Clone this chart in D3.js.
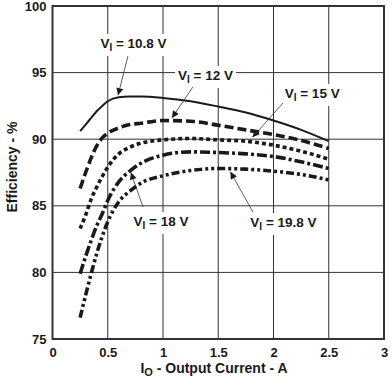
<!DOCTYPE html>
<html>
<head>
<meta charset="utf-8">
<script src="https://cdn.jsdelivr.net/npm/d3@7"></script>
<style>
  html, body { margin: 0; padding: 0; background: #fff; }
  #chart { width: 392px; height: 388px; }
  text { font-family: "Liberation Sans", Arial, sans-serif; font-weight: bold; fill: #1a1a1a; }
</style>
</head>
<body>
<div id="chart"></div>
<script>
// output current (A)
const current = [0.25, 0.3, 0.35, 0.4, 0.45, 0.5, 0.6, 0.7, 0.8, 1.0, 1.25, 1.5, 1.75, 2.0, 2.25, 2.5];

// efficiency (%) for each input voltage
const eff108 = [90.6, 91.1, 91.6, 92.1, 92.5, 92.85, 93.15, 93.2, 93.2, 93.1, 92.85, 92.45, 92.0, 91.4, 90.7, 89.85];
const eff12  = [86.3, 87.5, 88.6, 89.5, 90.1, 90.45, 90.85, 91.1, 91.2, 91.4, 91.35, 91.05, 90.7, 90.35, 89.9, 89.3];
const eff15  = [83.3, 84.3, 85.5, 86.4, 87.2, 87.9, 88.9, 89.4, 89.7, 89.95, 90.05, 89.95, 89.85, 89.55, 89.1, 88.5];
const eff18  = [79.9, 81.2, 82.4, 83.5, 84.4, 85.4, 86.8, 87.6, 88.2, 88.8, 89.05, 89.0, 88.9, 88.7, 88.3, 87.8];
const eff198 = [76.6, 78.3, 79.9, 81.4, 82.7, 83.8, 85.3, 86.1, 86.7, 87.25, 87.65, 87.8, 87.75, 87.6, 87.35, 86.95];

const xTicks = [0, 0.5, 1, 1.5, 2, 2.5, 3];
const yTicks = [75, 80, 85, 90, 95, 100];

// label text, label centre (A, %), arrow tail and tip (A, %)
const labelNames = ["10.8", "12", "15", "18", "19.8"];
const labelPos = [[0.733, 96.85], [1.385, 94.44], [2.35, 93.1], [0.982, 83.48], [2.09, 83.4]];
const arrowFrom = [[0.683, 96.25], [1.27, 93.92], [2.086, 92.72], [0.819, 84.9], [1.814, 84.53]];
const arrowTo = [[0.593, 93.3], [1.081, 91.6], [1.81, 90.15], [0.71, 87.5], [1.61, 87.55]];

const series = [
    { values: eff108, dash: null, width: 2 },
    { values: eff12, dash: "9,4", width: 3.6 },
    { values: eff15, dash: "4,3", width: 3.6 },
    { values: eff18, dash: "10,3,3,3", width: 3.6 },
    { values: eff198, dash: "8,3,3,3,3,3", width: 3.6 }
];

const width = 392, height = 388;
const plot = { left: 52.5, right: 384, top: 6, bottom: 339 };

const svg = d3.select("#chart").append("svg")
    .attr("width", width)
    .attr("height", height);

const x = d3.scaleLinear().domain([0, 3]).range([plot.left, plot.right]);
const y = d3.scaleLinear().domain([75, 100]).range([plot.bottom, plot.top]);

// grid
svg.append("g").selectAll("line")
    .data(xTicks.slice(1, -1))
    .enter().append("line")
    .attr("x1", d => x(d)).attr("x2", d => x(d))
    .attr("y1", plot.top).attr("y2", plot.bottom)
    .style("stroke", "#333").style("stroke-width", 1);

svg.append("g").selectAll("line")
    .data(yTicks.slice(1, -1))
    .enter().append("line")
    .attr("x1", plot.left).attr("x2", plot.right)
    .attr("y1", d => y(d)).attr("y2", d => y(d))
    .style("stroke", "#333").style("stroke-width", 1);

// axes (labels only, frame drawn separately)
const xAxis = svg.append("g")
    .attr("transform", `translate(0,${plot.bottom})`)
    .call(d3.axisBottom(x).tickValues(xTicks).tickSize(0).tickPadding(9).tickFormat(d3.format("")));
const yAxis = svg.append("g")
    .attr("transform", `translate(${plot.left},0)`)
    .call(d3.axisLeft(y).tickValues(yTicks).tickSize(0).tickPadding(6));
[xAxis, yAxis].forEach(a => {
    a.select(".domain").remove();
    a.selectAll("text").style("font-size", "13px").style("font-family", null).attr("fill", null);
});

svg.append("rect")
    .attr("x", plot.left).attr("y", plot.top)
    .attr("width", plot.right - plot.left).attr("height", plot.bottom - plot.top)
    .style("fill", "none").style("stroke", "#333").style("stroke-width", 2);

// annotation boxes + text
const labels = svg.append("g");
labelNames.forEach((name, i) => {
    const t = labels.append("text")
        .attr("x", x(labelPos[i][0]))
        .attr("y", y(labelPos[i][1]))
        .attr("text-anchor", "middle")
        .style("font-size", "13.5px");
    t.append("tspan").text("V");
    t.append("tspan").attr("dy", 3).style("font-size", "10px").text("I");
    t.append("tspan").attr("dy", -3).text(` = ${name} V`);
    const b = t.node().getBBox();
    labels.insert("rect", "text")
        .attr("x", b.x - 3).attr("y", b.y - 2)
        .attr("width", b.width + 6).attr("height", b.height + 5)
        .style("fill", "#fff");
});

// curves
const line = d3.line()
    .x((d, i) => x(current[i]))
    .y(d => y(d))
    .curve(d3.curveMonotoneX);

svg.append("g").selectAll("path")
    .data(series)
    .enter().append("path")
    .attr("d", d => line(d.values))
    .style("fill", "none")
    .style("stroke", "#1a1a1a")
    .style("stroke-width", d => d.width)
    .style("stroke-dasharray", d => d.dash);

labels.raise();

// arrows
svg.append("defs").append("marker")
    .attr("id", "head")
    .attr("viewBox", "0 0 10 10")
    .attr("refX", 10).attr("refY", 5)
    .attr("markerWidth", 9).attr("markerHeight", 7)
    .attr("markerUnits", "userSpaceOnUse")
    .attr("orient", "auto")
    .append("path")
    .attr("d", "M0,0L10,5L0,10Z")
    .style("fill", "#1a1a1a");

svg.append("g").selectAll("line")
    .data(arrowFrom)
    .enter().append("line")
    .attr("x1", d => x(d[0])).attr("y1", d => y(d[1]))
    .attr("x2", (d, i) => x(arrowTo[i][0])).attr("y2", (d, i) => y(arrowTo[i][1]))
    .style("stroke", "#333").style("stroke-width", 0.8)
    .attr("marker-end", "url(#head)");

// axis titles
const xt = svg.append("text")
    .attr("x", 214).attr("y", 373)
    .attr("text-anchor", "middle")
    .style("font-size", "14px");
xt.append("tspan").text("I");
xt.append("tspan").attr("dy", 3).style("font-size", "11px").text("O");
xt.append("tspan").attr("dy", -3).text(" - Output Current - A");

svg.append("text")
    .attr("transform", "translate(17,167) rotate(-90)")
    .attr("text-anchor", "middle")
    .style("font-size", "14px")
    .text("Efficiency - %");
</script>
</body>
</html>
